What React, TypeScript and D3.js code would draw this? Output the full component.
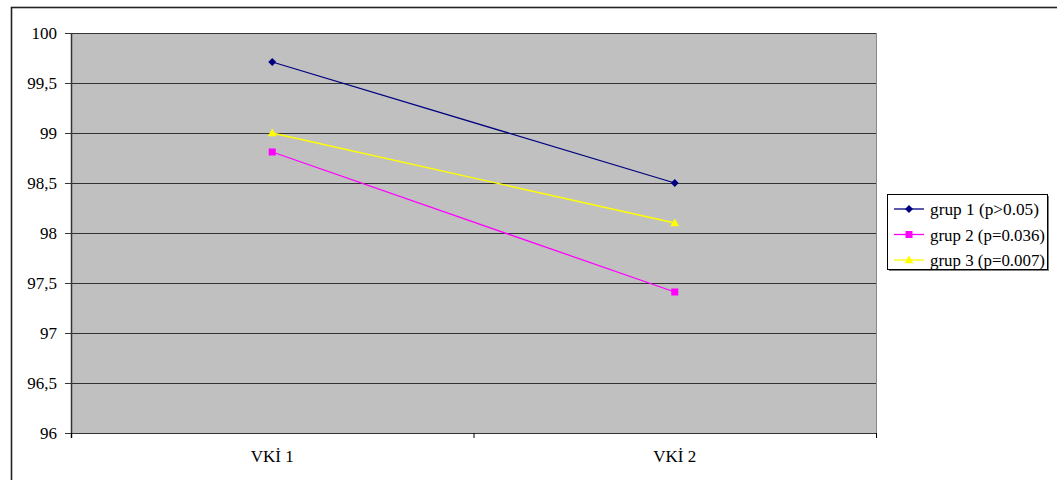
import React from "react";
import * as d3 from "d3";

// Categories and series
const categories = ["VKİ 1", "VKİ 2"];
const seriesNames = ["grup 1 (p>0.05)", "grup 2 (p=0.036)", "grup 3 (p=0.007)"];
const grup1 = [99.71, 98.5];
const grup2 = [98.81, 97.41];
const grup3 = [99.0, 98.1];
const yTicks = [96, 96.5, 97, 97.5, 98, 98.5, 99, 99.5, 100];
const colors = ["#000080", "#FF00FF", "#FFFF00"];
const markers = ["diamond", "square", "triangle"];

const W = 1057;
const H = 480;
const plot = { left: 71, right: 876, top: 33, bottom: 433 };

function Marker({ kind, x, y, color }: { kind: string; x: number; y: number; color: string }) {
  if (kind === "diamond") {
    const s = 4;
    return <path d={`M${x},${y - s}L${x + s},${y}L${x},${y + s}L${x - s},${y}Z`} fill={color} />;
  }
  if (kind === "square") {
    const s = 3.5;
    return <rect x={x - s} y={y - s} width={s * 2} height={s * 2} fill={color} />;
  }
  const s = 4.5;
  return <path d={`M${x},${y - s}L${x + s},${y + s * 0.7}L${x - s},${y + s * 0.7}Z`} fill={color} />;
}

export default function App() {
  const x = d3.scaleBand<string>().domain(categories).range([plot.left, plot.right]);
  const y = d3.scaleLinear().domain([96, 100]).range([plot.bottom, plot.top]);
  const series = [grup1, grup2, grup3];
  const line = d3
    .line<number>()
    .x((_, i) => (x(categories[i]) as number) + x.bandwidth() / 2)
    .y((d) => y(d));

  const font = "'Liberation Serif', 'Times New Roman', serif";
  const legend = { x: 887, y: 194, w: 160, h: 75 };

  return (
    <svg
      width={W}
      height={H}
      style={{ position: "absolute", left: 0, top: 0, display: "block" }}
      fontFamily={font}
    >
      <rect x={0} y={0} width={W} height={H} fill="#fff" />
      {/* outer chart frame */}
      <rect x={11.5} y={7.5} width={1060} height={500} fill="none" stroke="#222" strokeWidth={1.6} />

      {/* plot area */}
      <rect
        x={plot.left}
        y={plot.top}
        width={plot.right - plot.left}
        height={plot.bottom - plot.top}
        fill="#C0C0C0"
      />
      <line x1={plot.right + 0.5} x2={plot.right + 0.5} y1={plot.top} y2={plot.bottom} stroke="#8a8a8a" />

      {/* gridlines and y ticks */}
      {yTicks.map((t) => (
        <g key={t}>
          <line
            x1={plot.left - 6}
            x2={plot.right}
            y1={Math.round(y(t)) + 0.5}
            y2={Math.round(y(t)) + 0.5}
            stroke="#333"
            strokeWidth={1.2}
          />
          <text
            x={plot.left - 14}
            y={y(t)}
            dy="0.35em"
            textAnchor="end"
            fontSize={17}
            fill="#000"
          >
            {String(t).replace(".", ",")}
          </text>
        </g>
      ))}

      {/* y axis */}
      <line x1={plot.left + 0.5} x2={plot.left + 0.5} y1={plot.top} y2={plot.bottom + 5} stroke="#333" strokeWidth={1.5} />

      {/* x axis ticks at category boundaries */}
      {[plot.left, ...categories.map((c) => (x(c) as number) + x.bandwidth())].map((px, i) => (
        <line key={i} x1={px + 0.5} x2={px + 0.5} y1={plot.bottom} y2={plot.bottom + 5} stroke="#000" />
      ))}
      {categories.map((c) => (
        <text
          key={c}
          x={(x(c) as number) + x.bandwidth() / 2}
          y={plot.bottom + 29}
          textAnchor="middle"
          fontSize={17}
          fill="#000"
        >
          {c}
        </text>
      ))}

      {/* series lines and markers */}
      {series.map((vals, si) => (
        <g key={si}>
          <path d={line(vals) || ""} fill="none" stroke={colors[si]} strokeWidth={1.3} />
          {vals.map((v, i) => (
            <Marker
              key={i}
              kind={markers[si]}
              x={(x(categories[i]) as number) + x.bandwidth() / 2}
              y={y(v)}
              color={colors[si]}
            />
          ))}
        </g>
      ))}

      {/* legend */}
      <rect x={legend.x + 2} y={legend.y + 2} width={legend.w} height={legend.h} fill="#808080" />
      <rect x={legend.x + 0.5} y={legend.y + 0.5} width={legend.w} height={legend.h} fill="#fff" stroke="#000" />
      {seriesNames.map((name, i) => {
        const cy = legend.y + 15 + i * 25.5;
        return (
          <g key={name}>
            <line x1={legend.x + 7} x2={legend.x + 37} y1={cy} y2={cy} stroke={colors[i]} strokeWidth={1.3} />
            <Marker kind={markers[i]} x={legend.x + 22} y={cy} color={colors[i]} />
            <text x={legend.x + 43} y={cy} dy="0.35em" fontSize={17.5} fill="#000" textLength={name.length > 15 ? 115 : 109} lengthAdjust="spacingAndGlyphs">
              {name}
            </text>
          </g>
        );
      })}
    </svg>
  );
}
